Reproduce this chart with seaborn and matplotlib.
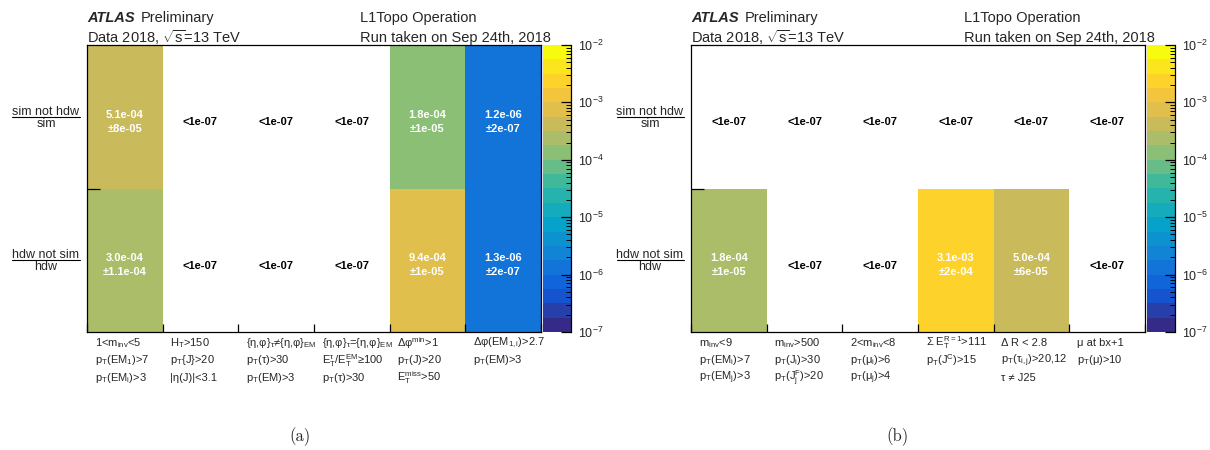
import numpy as np
import pandas as pd
import matplotlib
matplotlib.use('Agg')
import matplotlib.pyplot as plt
from matplotlib.colors import LinearSegmentedColormap, ListedColormap, LogNorm
from matplotlib.lines import Line2D
from matplotlib.ticker import LogLocator, LogFormatterMathtext, NullFormatter
import seaborn as sns

sns.set_theme(style='white')
plt.rcParams['font.family'] = ['Liberation Sans', 'DejaVu Sans']
plt.rcParams['mathtext.fontset'] = 'custom'
plt.rcParams['mathtext.rm'] = 'Liberation Sans'
plt.rcParams['mathtext.it'] = 'Liberation Sans:italic'
plt.rcParams['mathtext.bf'] = 'Liberation Sans:bold'
plt.rcParams['mathtext.default'] = 'regular'
plt.rcParams['axes.axisbelow'] = False

# ---- data ----
row_num = ['sim not hdw', 'hdw not sim']
row_den = ['sim', 'hdw']

# panel (a)
sim_a = [5.1e-4, np.nan, np.nan, np.nan, 1.76e-4, 1.2e-6]
sim_a_err = [8e-5, np.nan, np.nan, np.nan, 1e-5, 2e-7]
hdw_a = [3.0e-4, np.nan, np.nan, np.nan, 9.4e-4, 1.3e-6]
hdw_a_err = [1.1e-4, np.nan, np.nan, np.nan, 1e-5, 2e-7]
labels_a = [
    ['1<m$_{inv}$<5', 'p$_T$(EM$_1$)>7', 'p$_T$(EM$_i$)>3'],
    ['H$_T$>150', 'p$_T${J}>20', '|η(J)|<3.1'],
    ['{η,φ}$_τ$≠{η,φ}$_{EM}$', 'p$_T$(τ)>30', 'p$_T$(EM)>3'],
    ['{η,φ}$_τ$={η,φ}$_{EM}$', 'E$_T^{τ}$/E$_T^{EM}$≥100', 'p$_T$(τ)>30'],
    ['Δφ$^{min}$>1', 'p$_T$(J)>20', 'E$_T^{miss}$>50'],
    ['Δφ(EM$_{1,i}$)>2.7', 'p$_T$(EM)>3'],
]

# panel (b)
sim_b = [np.nan, np.nan, np.nan, np.nan, np.nan, np.nan]
sim_b_err = [np.nan, np.nan, np.nan, np.nan, np.nan, np.nan]
hdw_b = [1.8e-4, np.nan, np.nan, 3.1e-3, 5.0e-4, np.nan]
hdw_b_err = [1e-5, np.nan, np.nan, 2e-4, 6e-5, np.nan]
labels_b = [
    ['m$_{inv}$<9', 'p$_T$(EM$_i$)>7', 'p$_T$(EM$_j$)>3'],
    ['m$_{inv}$>500', 'p$_T$(J$_i$)>30', 'p$_T$(J$_j^F$)>20'],
    ['2<m$_{inv}$<8', 'p$_T$(μ$_i$)>6', 'p$_T$(μ$_j$)>4'],
    ['Σ E$_T^{R=1}$>111', 'p$_T$(J$^C$)>15'],
    ['Δ R < 2.8', 'p$_T$(τ$_{i,j}$)>20,12', 'τ ≠ J25'],
    ['μ at bx+1', 'p$_T$(μ)>10'],
]

# ROOT kBird palette, 20 contours
bird_stops = [0.0, 0.125, 0.25, 0.375, 0.5, 0.625, 0.75, 0.875, 1.0]
bird_r = [0.2082, 0.0592, 0.0780, 0.0232, 0.1802, 0.5301, 0.8186, 0.9956, 0.9764]
bird_g = [0.1664, 0.3599, 0.5041, 0.6419, 0.7178, 0.7492, 0.7328, 0.7862, 0.9832]
bird_b = [0.5293, 0.8684, 0.8385, 0.7914, 0.6425, 0.4662, 0.3499, 0.1968, 0.0539]
bird = LinearSegmentedColormap.from_list(
    'bird', list(zip(bird_stops, zip(bird_r, bird_g, bird_b))))
bird20 = ListedColormap([bird(i / 19) for i in range(20)])

W, H = 1210, 450
fig = plt.figure(figsize=(W / 100, H / 100), dpi=100)


def fx(x):
    return x / W


def fy(y):
    return 1 - y / H


def draw_panel(x0, sim, sim_err, hdw, hdw_err, xlabels, cap):
    ax = fig.add_axes([fx(x0), fy(332), 454 / W, 287 / H])
    cax = fig.add_axes([fx(x0 + 456), fy(332), 28 / W, 287 / H])
    data = pd.DataFrame([sim, hdw], index=row_num)
    errs = [sim_err, hdw_err]
    sns.heatmap(data, ax=ax, cbar_ax=cax, cmap=bird20,
                norm=LogNorm(vmin=1e-7, vmax=1e-2),
                xticklabels=False, yticklabels=False)

    for i in range(2):
        for j in range(6):
            v = data.iloc[i, j]
            if np.isnan(v):
                ax.text(j + 0.5, i + 0.54, '<1e-07', ha='center', va='center',
                        fontsize=8, fontweight='bold', color='black')
            else:
                e = np.format_float_scientific(errs[i][j], exp_digits=2, trim='-')
                ax.text(j + 0.5, i + 0.535, f'{v:.1e}\n±{e}', ha='center', va='center',
                        fontsize=8, fontweight='bold', color='white', linespacing=1.45)

    ax.set_axisbelow(False)
    for s in ax.spines.values():
        s.set_visible(True)
        s.set_color('black')
        s.set_linewidth(0.9)
    ax.set_xticks(np.arange(7))
    ax.set_xticklabels([])
    ax.set_yticks([1])
    ax.set_yticklabels([])
    ax.tick_params(axis='x', bottom=True, top=False, direction='in', length=6,
                   width=0.9, color='black')
    ax.tick_params(axis='y', left=True, right=False, direction='in', length=9,
                   width=0.9, color='black')

    # column labels
    tr = ax.get_xaxis_transform()
    for j, lines in enumerate(xlabels):
        for k, line in enumerate(lines):
            ax.text(j + 0.1, -0.038 - 0.061 * k, line, transform=tr, ha='left',
                    va='center', fontsize=8)

    # colorbar
    cb = ax.collections[0].colorbar
    cb.ax.set_axisbelow(False)
    cb.set_ticks([1e-7, 1e-6, 1e-5, 1e-4, 1e-3, 1e-2])
    cb.ax.yaxis.set_major_formatter(LogFormatterMathtext())
    cb.minorlocator = LogLocator(base=10, subs=np.arange(2, 10))
    cb.ax.yaxis.set_minor_formatter(NullFormatter())
    cb.ax.yaxis.set_tick_params(which='both', left=False, right=True,
                                labelleft=False, labelright=True,
                                direction='in', color='black')
    cb.ax.yaxis.set_tick_params(which='major', length=7, width=0.9,
                                labelsize=9, pad=5)
    cb.ax.yaxis.set_tick_params(which='minor', length=3.5, width=0.7)
    cb.ax.spines['right'].set_visible(True)
    cb.ax.spines['right'].set_color('black')
    cb.ax.spines['right'].set_linewidth(0.9)

    # headers
    fig.text(fx(x0), fy(18), 'ATLAS', fontsize=10.5, fontweight='bold',
             fontstyle='italic', va='center')
    fig.text(fx(x0 + 54), fy(18), 'Preliminary', fontsize=10.5, va='center')
    fig.text(fx(x0), fy(38), 'Data 2018, $\\sqrt{s}$=13 TeV', fontsize=10.5, va='center')
    fig.text(fx(x0 + 273), fy(18), 'L1Topo Operation', fontsize=10.5, va='center')
    fig.text(fx(x0 + 273), fy(38), 'Run taken on Sep 24th, 2018', fontsize=10.5,
             va='center')

    # row labels as fractions
    fig.canvas.draw()
    rend = fig.canvas.get_renderer()
    for i, yc in enumerate([117, 260]):
        cx = x0 - 41
        tn = fig.text(fx(cx), fy(yc - 2), row_num[i], fontsize=9, ha='center',
                      va='baseline')
        fig.text(fx(cx), fy(yc + 10), row_den[i], fontsize=9, ha='center',
                 va='baseline')
        bb = tn.get_window_extent(rend)
        fig.add_artist(Line2D([bb.x0 / W, bb.x1 / W], [fy(yc), fy(yc)],
                              transform=fig.transFigure, color='black', lw=0.8))

    fig.text(fx(cap), fy(437), '(a)' if x0 < 600 else '(b)', fontsize=12,
             family='cmr10', ha='center', va='center')


draw_panel(87, sim_a, sim_a_err, hdw_a, hdw_a_err, labels_a, 300)
draw_panel(691, sim_b, sim_b_err, hdw_b, hdw_b_err, labels_b, 898)

fig.savefig('out.png', dpi=100)
